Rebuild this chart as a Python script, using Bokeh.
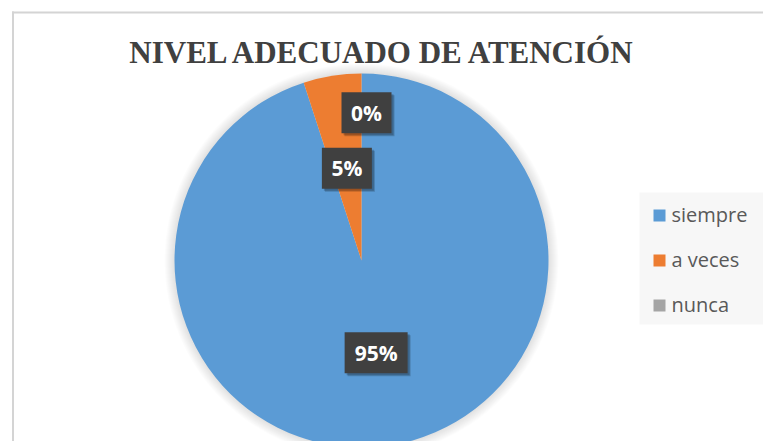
import math
from bokeh.plotting import figure
from bokeh.models import ColumnDataSource, Range1d
from bokeh.core.properties import value
from bokeh.embed import file_html
from bokeh.resources import INLINE

# ---- data ----
title_text = "NIVEL ADECUADO DE ATENCIÓN"
categories = ["siempre", "a veces", "nunca"]
values = [95, 5, 0]
colors = ["#5B9BD5", "#ED7D31", "#A5A5A5"]

# ---- layout (page pixel coordinates, y measured from top) ----
W, H = 763, 441
PAGE_H = 441
def py(y):  # page y -> data y
    return PAGE_H - y

cx, cy, R = 361, py(260), 187

p = figure(width=W, height=H, output_backend="svg", toolbar_location=None,
           x_range=Range1d(0, W), y_range=Range1d(PAGE_H - H, PAGE_H),
           x_axis_type=None, y_axis_type=None, min_border=0,
           outline_line_color=None, background_fill_color="white",
           border_fill_color="white")
p.grid.visible = False

# chart border (left/top visible), drawn as thin filled bars
p.quad(left=[11.5, 11.5], right=[13.5, W], top=[py(11), py(11)], bottom=[0, py(13)],
       fill_color="#D4D4D4", line_color=None)

# legend background
p.quad(left=[639], right=[W], top=[py(192)], bottom=[py(324)],
       fill_color="#F7F7F7", line_color=None)

# pie soft shadow
for k in range(1, 11):
    p.circle(x=[cx], y=[cy], radius=R + k, fill_color="black", fill_alpha=0.012,
             line_color=None)

# wedges: start at 12 o'clock, go clockwise (zero slices are not drawn)
total = sum(values)
cum = [0.0]
for v in values:
    cum.append(cum[-1] + v / total)
starts = [math.pi / 2 - 2 * math.pi * cum[i + 1] for i in range(len(values))]
ends = [math.pi / 2 - 2 * math.pi * cum[i] for i in range(len(values))]
keep = [i for i, v in enumerate(values) if v > 0]
src = ColumnDataSource(dict(start=[starts[i] for i in keep], end=[ends[i] for i in keep],
                            color=[colors[i] for i in keep]))
p.wedge(x=cx, y=cy, radius=R, start_angle="start", end_angle="end",
        fill_color="color", line_color=None, source=src)

# data labels
label_r = [0.5, 0.5, 0.79]
label_dx = [0, 0, 5]
lx, ly, lt, lw = [], [], [], []
for i, v in enumerate(values):
    mid = (starts[i] + ends[i]) / 2
    lx.append(cx + label_r[i] * R * math.cos(mid) + label_dx[i])
    ly.append(cy + label_r[i] * R * math.sin(mid))
    t = f"{v}%"
    lt.append(t)
    lw.append(24 + 13 * len(t))
# shadows
p.rect(x=[x + 3 for x in lx], y=[y - 3 for y in ly], width=lw, height=41,
       fill_color="black", fill_alpha=0.18, line_color=None)
p.rect(x=[x + 2 for x in lx], y=[y - 2 for y in ly], width=lw, height=41,
       fill_color="black", fill_alpha=0.2, line_color=None)
p.rect(x=lx, y=ly, width=lw, height=41, fill_color="#404040", line_color=None)
p.text(x=lx, y=ly, text=lt, text_align="center", text_baseline="middle",
       text_color="white", text_font=value("Open Sans"), text_font_style="bold",
       text_font_size="21px")

# title
p.text(x=[383], y=[py(52)], text=[title_text], text_align="center",
       text_baseline="alphabetic", text_color="#404040",
       text_font=value("Liberation Serif"), text_font_style="bold",
       text_font_size="31px")

# legend
leg_y = [py(215), py(260), py(305)]
p.rect(x=[659] * 3, y=leg_y, width=12, height=12, fill_color=colors, line_color=None)
p.text(x=[671] * 3, y=[y + 1 for y in leg_y], text=categories, text_align="left",
       text_baseline="middle", text_color="#595959",
       text_font=value("Open Sans"), text_font_size="20px")

open("out.html", "w").write(file_html(p, INLINE))
